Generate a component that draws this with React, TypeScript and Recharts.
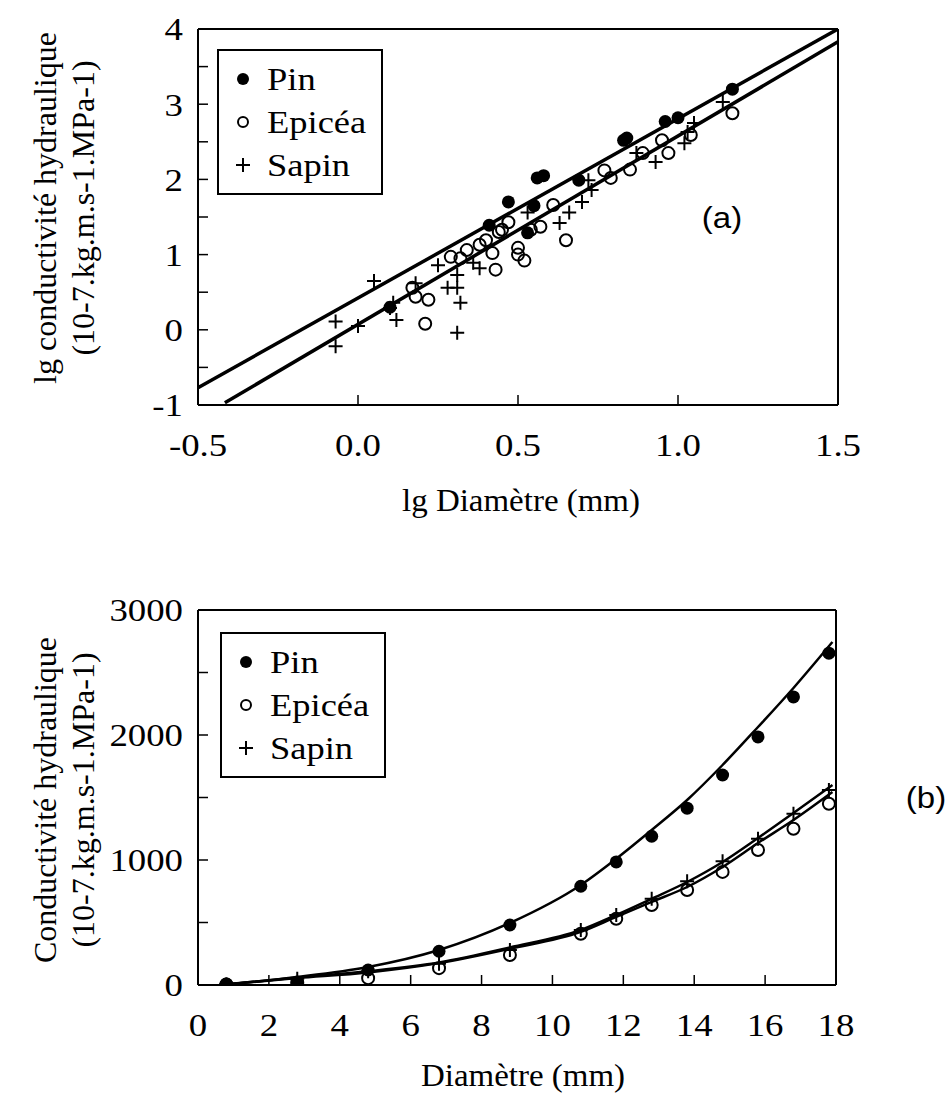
import * as React from 'react'
import { ComposedChart, Line, Scatter, XAxis, YAxis } from 'recharts'

const FONT = '"Liberation Serif", "DejaVu Serif", "Times New Roman", serif'
const SANS = '"Liberation Sans", Arial, sans-serif'

// ---- (a) lg conductivité vs lg diamètre ----
const pinLog = [
  [0.10, 0.30], [0.41, 1.39], [0.47, 1.70], [0.53, 1.29], [0.55, 1.65], [0.56, 2.02],
  [0.58, 2.05], [0.69, 1.99], [0.83, 2.52], [0.84, 2.55], [0.96, 2.77], [1.00, 2.82], [1.17, 3.20],
]
const epiceaLog = [
  [0.17, 0.56], [0.18, 0.44], [0.22, 0.40], [0.21, 0.08], [0.29, 0.97], [0.32, 0.95], [0.34, 1.06],
  [0.38, 1.13], [0.40, 1.19], [0.42, 1.02], [0.43, 0.80], [0.44, 1.30], [0.45, 1.33], [0.47, 1.43],
  [0.50, 1.09], [0.50, 1.00], [0.52, 0.92], [0.54, 1.33], [0.57, 1.37], [0.61, 1.66], [0.65, 1.19],
  [0.77, 2.12], [0.79, 2.02], [0.85, 2.13], [0.89, 2.35], [0.95, 2.52], [0.97, 2.35], [1.04, 2.59],
  [1.17, 2.88],
]
const sapinLog = [
  [-0.07, 0.11], [-0.07, -0.22], [0.00, 0.05], [0.05, 0.65], [0.10, 0.29], [0.11, 0.36], [0.12, 0.13],
  [0.18, 0.62], [0.25, 0.86], [0.28, 0.56], [0.31, 0.56], [0.31, 0.73], [0.32, 0.36], [0.31, -0.04],
  [0.36, 0.89], [0.38, 0.82], [0.53, 1.56], [0.63, 1.42], [0.66, 1.56], [0.70, 1.70], [0.72, 1.99],
  [0.73, 1.86], [0.87, 2.35], [0.93, 2.23], [1.02, 2.48], [1.03, 2.63], [1.05, 2.75], [1.14, 3.03],
]
const fitUpper = [[-0.5, -0.77], [1.5, 4.0]]
const fitLower = [[-0.416, -0.97], [1.5, 3.83]]
const logXTicks = [-0.5, 0, 0.5, 1, 1.5]
const logYTicks = [-1, -0.5, 0, 0.5, 1, 1.5, 2, 2.5, 3, 3.5, 4]

// ---- (b) conductivité vs diamètre ----
const diam = [0.8, 2.8, 4.8, 6.8, 8.8, 10.8, 11.8, 12.8, 13.8, 14.8, 15.8, 16.8, 17.8]
const pinK = [8, 15, 120, 270, 480, 790, 985, 1190, 1415, 1680, 1985, 2305, 2655]
const epiceaK = [5, 20, 55, 135, 240, 410, 530, 640, 760, 905, 1080, 1250, 1450]
const sapinK = [5, 50, 110, 170, 280, 440, 560, 690, 830, 990, 1170, 1370, 1560]

const curveX = [0.6, 2.8, 4.8, 6.8, 8.8, 10.8, 11.8, 12.8, 13.8, 14.8, 15.8, 16.8, 17.9]
const pinCurve = [0, 64, 144, 280, 496, 800, 1010, 1240, 1480, 1760, 2064, 2376, 2744]
const sapinCurve = [0, 60, 110, 180, 300, 440, 560, 690, 824, 984, 1176, 1376, 1600]
const epiceaCurve = [0, 55, 100, 175, 290, 425, 545, 665, 784, 944, 1136, 1320, 1544]
const linXTicks = [0, 2, 4, 6, 8, 10, 12, 14, 16, 18]
const linYTicks = [0, 500, 1000, 1500, 2000, 2500, 3000]

const pairs = (arr: number[][]) => arr.map(([x, y]) => ({ x, y }))
const zip = (xs: number[], ys: number[]) => xs.map((x, i) => ({ x, y: ys[i] }))

const Dot = (p: any) => <circle cx={p.cx} cy={p.cy} r={6.5} fill="#000" />
const Ring = (p: any) => (
  <circle cx={p.cx} cy={p.cy} r={6} fill="none" stroke="#000" strokeWidth={2} />
)
const Cross = (p: any) => (
  <path
    d={`M${p.cx - 7},${p.cy}H${p.cx + 7}M${p.cx},${p.cy - 7}V${p.cy + 7}`}
    stroke="#000"
    strokeWidth={2}
  />
)

// the scanned figure's type is a bit wider than Times, so ticks get stretched
const makeTick = (fmt: (v: number) => string, side: 'x' | 'y') => (p: any) => {
  const label = fmt(p.payload.value)
  if (!label) return <g />
  return (
    <text
      transform={`translate(${p.x},${p.y}) scale(1.15,1)`}
      textAnchor={side === 'x' ? 'middle' : 'end'}
      dy={side === 'x' ? '0.71em' : '0.355em'}
      fontSize={32}
      fontFamily={FONT}
      fill="#000"
    >
      {label}
    </text>
  )
}

const axisLine = { stroke: '#000', strokeWidth: 2 }
const tickLine = { stroke: '#000', strokeWidth: 1.5 }

// four axes drawn as a closed frame, ticks pointing inward
function Frame({ xDomain, yDomain, xTicks, yTicks, xFmt, yFmt }: any) {
  return [
    <XAxis
      key="xb"
      xAxisId={0}
      type="number"
      dataKey="x"
      domain={xDomain}
      ticks={xTicks}
      allowDataOverflow
      interval={0}
      height={1}
      tickSize={-10}
      tickMargin={38}
      tick={makeTick(xFmt, 'x')}
      axisLine={axisLine}
      tickLine={tickLine}
    />,
    <XAxis
      key="xt"
      xAxisId="top"
      orientation="top"
      type="number"
      domain={xDomain}
      ticks={xTicks}
      allowDataOverflow
      height={1}
      tickSize={-10}
      tick={false}
      axisLine={axisLine}
      tickLine={tickLine}
    />,
    <YAxis
      key="yl"
      yAxisId={0}
      type="number"
      dataKey="y"
      domain={yDomain}
      ticks={yTicks}
      allowDataOverflow
      interval={0}
      width={1}
      tickSize={-10}
      tickMargin={25}
      tick={makeTick(yFmt, 'y')}
      axisLine={axisLine}
      tickLine={tickLine}
    />,
    <YAxis
      key="yr"
      yAxisId="right"
      orientation="right"
      type="number"
      domain={yDomain}
      ticks={yTicks}
      allowDataOverflow
      width={1}
      tickSize={-10}
      tick={false}
      axisLine={axisLine}
      tickLine={tickLine}
    />,
  ]
}

function LegendBox({ left, top }: { left: number; top: number }) {
  const rows = [
    { label: 'Pin', mark: <circle cx={8} cy={8} r={6} fill="#000" />, y: 28 },
    { label: 'Epicéa', mark: <circle cx={8} cy={8} r={5} fill="none" stroke="#000" strokeWidth={2} />, y: 71 },
    { label: 'Sapin', mark: <path d="M1,8H15M8,1V15" stroke="#000" strokeWidth={2} />, y: 114 },
  ]
  return (
    <div
      style={{
        position: 'absolute',
        left,
        top,
        width: 166,
        height: 146,
        border: '2px solid #000',
        boxSizing: 'border-box',
        background: '#fff',
      }}
    >
      {rows.map((r) => (
        <React.Fragment key={r.label}>
          <svg width={16} height={16} style={{ position: 'absolute', left: 16, top: r.y - 8 }}>
            {r.mark}
          </svg>
          <div
            style={{
              position: 'absolute',
              left: 48,
              top: r.y - 20,
              height: 40,
              lineHeight: '40px',
              fontSize: 32,
              fontFamily: FONT,
              whiteSpace: 'nowrap',
              transform: 'scaleX(1.14)',
              transformOrigin: 'left center',
            }}
          >
            {r.label}
          </div>
        </React.Fragment>
      ))}
    </div>
  )
}

function VTitle({ x, y, text }: { x: number; y: number; text: string }) {
  return (
    <div
      style={{
        position: 'absolute',
        left: x,
        top: y,
        transform: 'translate(-50%, -50%) rotate(-90deg)',
        fontSize: 32,
        fontFamily: FONT,
        whiteSpace: 'nowrap',
        lineHeight: '36px',
      }}
    >
      {text}
    </div>
  )
}

function HText({ x, y, text, size = 32, family = FONT, stretch = 1.03 }: any) {
  return (
    <div
      style={{
        position: 'absolute',
        left: x,
        top: y,
        transform: `translate(-50%, -50%) scaleX(${stretch})`,
        fontSize: size,
        fontFamily: family,
        whiteSpace: 'nowrap',
        lineHeight: '36px',
      }}
    >
      {text}
    </div>
  )
}

export default function App() {
  return (
    <div
      style={{
        position: 'absolute',
        left: 0,
        top: 0,
        width: 948,
        height: 1104,
        overflow: 'hidden',
        background: '#fff',
        fontFamily: FONT,
      }}
    >
      <div style={{ position: 'absolute', left: 0, top: 0 }}>
        <ComposedChart width={948} height={480} margin={{ left: 197, right: 109, top: 28, bottom: 74 }}>
          {Frame({
            xDomain: [-0.5, 1.5],
            yDomain: [-1, 4],
            xTicks: logXTicks,
            yTicks: logYTicks,
            xFmt: (v: number) => v.toFixed(1),
            yFmt: (v: number) => (Number.isInteger(v) ? String(v) : ''),
          })}
          <Line data={pairs(fitUpper)} dataKey="y" type="linear" stroke="#000" strokeWidth={3.5} dot={false} isAnimationActive={false} />
          <Line data={pairs(fitLower)} dataKey="y" type="linear" stroke="#000" strokeWidth={3.5} dot={false} isAnimationActive={false} />
          <Scatter data={pairs(epiceaLog)} shape={Ring} isAnimationActive={false} />
          <Scatter data={pairs(sapinLog)} shape={Cross} isAnimationActive={false} />
          <Scatter data={pairs(pinLog)} shape={Dot} isAnimationActive={false} />
        </ComposedChart>
      </div>

      <div style={{ position: 'absolute', left: 0, top: 540 }}>
        <ComposedChart width={948} height={520} margin={{ left: 197, right: 111, top: 69, bottom: 74 }}>
          {Frame({
            xDomain: [0, 18],
            yDomain: [0, 3000],
            xTicks: linXTicks,
            yTicks: linYTicks,
            xFmt: (v: number) => String(v),
            yFmt: (v: number) => (v % 1000 === 0 ? String(v) : ''),
          })}
          <Line data={zip(curveX, pinCurve)} dataKey="y" type="monotone" stroke="#000" strokeWidth={2.5} dot={false} isAnimationActive={false} />
          <Line data={zip(curveX, sapinCurve)} dataKey="y" type="monotone" stroke="#000" strokeWidth={2.5} dot={false} isAnimationActive={false} />
          <Line data={zip(curveX, epiceaCurve)} dataKey="y" type="monotone" stroke="#000" strokeWidth={2.5} dot={false} isAnimationActive={false} />
          <Scatter data={zip(diam, epiceaK)} shape={Ring} isAnimationActive={false} />
          <Scatter data={zip(diam, sapinK)} shape={Cross} isAnimationActive={false} />
          <Scatter data={zip(diam, pinK)} shape={Dot} isAnimationActive={false} />
        </ComposedChart>
      </div>

      <LegendBox left={217} top={49} />
      <LegendBox left={220} top={632} />

      <VTitle x={45} y={208} text="lg conductivité hydraulique" />
      <VTitle x={83} y={208} text="(10-7.kg.m.s-1.MPa-1)" />
      <VTitle x={45} y={800} text="Conductivité hydraulique" />
      <VTitle x={83} y={800} text="(10-7.kg.m.s-1.MPa-1)" />

      <HText x={521} y={500} text="lg Diamètre (mm)" />
      <HText x={523} y={1075} text="Diamètre (mm)" />

      <HText x={722} y={218} text="(a)" size={30} family={SANS} stretch={1.1} />
      <HText x={926} y={798} text="(b)" size={30} family={SANS} stretch={1.1} />
    </div>
  )
}
